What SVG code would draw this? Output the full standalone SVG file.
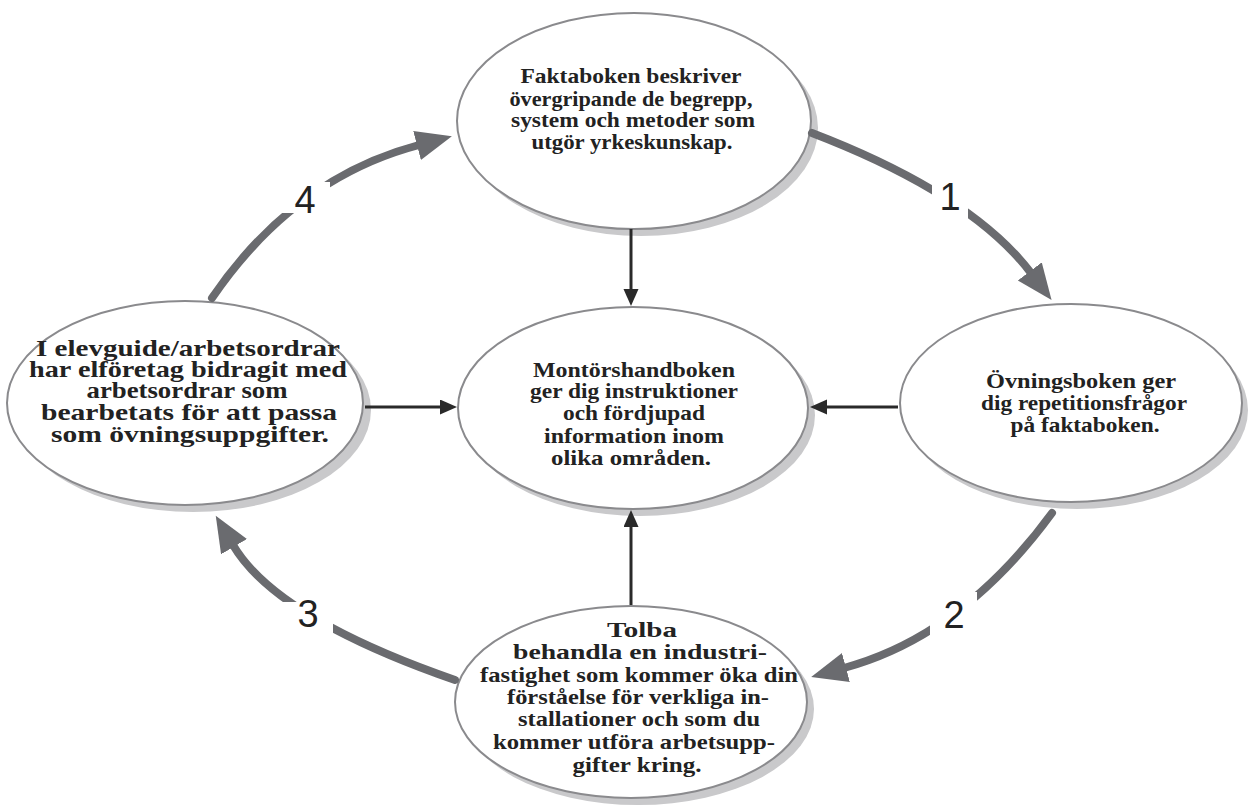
<svg xmlns="http://www.w3.org/2000/svg" width="1249" height="812" viewBox="0 0 1249 812">
<style>
.sh{fill:#c9c9cb;stroke:none}
.el{fill:#fff;stroke:#8a8a8d;stroke-width:2}
.t{font-family:"Liberation Serif",serif;font-weight:bold;font-size:22px;fill:#222;text-anchor:middle}
.cur{fill:none;stroke:#6a6b6f;stroke-width:8;stroke-linecap:round}
.blk{fill:none;stroke:#2a2a2a;stroke-width:3}
.num{font-family:"Liberation Sans",sans-serif;font-size:38px;fill:#222;text-anchor:middle}
.gap{fill:#fff}
</style>
<defs>
<marker id="big" markerUnits="userSpaceOnUse" markerWidth="40" markerHeight="34" refX="2" refY="15" orient="auto">
<path d="M0,0 L36,15 L0,30 Z" fill="#6a6b6f"/>
</marker>
<marker id="sm" markerUnits="userSpaceOnUse" markerWidth="20" markerHeight="16" refX="1" refY="7.5" orient="auto">
<path d="M0,0 L17,7.5 L0,15 Z" fill="#2a2a2a"/>
</marker>
</defs>
<g id="n-fakta">
<ellipse class="sh" cx="641" cy="128" rx="177" ry="108"/>
<ellipse class="el" cx="634" cy="121" rx="177" ry="108"/>
<text class="t"><tspan x="631" y="83" textLength="221" lengthAdjust="spacingAndGlyphs">Faktaboken beskriver</tspan><tspan x="631" y="106" textLength="243" lengthAdjust="spacingAndGlyphs">övergripande de begrepp,</tspan><tspan x="633" y="127" textLength="244" lengthAdjust="spacingAndGlyphs">system och metoder som</tspan><tspan x="632" y="149" textLength="201" lengthAdjust="spacingAndGlyphs">utgör yrkeskunskap.</tspan></text>
</g>
<g id="n-montor">
<ellipse class="sh" cx="640" cy="415" rx="175" ry="101"/>
<ellipse class="el" cx="633" cy="408" rx="175" ry="101"/>
<text class="t"><tspan x="634" y="377" textLength="202" lengthAdjust="spacingAndGlyphs">Montörshandboken</tspan><tspan x="634" y="398" textLength="208" lengthAdjust="spacingAndGlyphs">ger dig instruktioner</tspan><tspan x="634" y="420" textLength="142" lengthAdjust="spacingAndGlyphs">och fördjupad</tspan><tspan x="634" y="443" textLength="180" lengthAdjust="spacingAndGlyphs">information inom</tspan><tspan x="631" y="465" textLength="160" lengthAdjust="spacingAndGlyphs">olika områden.</tspan></text>
</g>
<g id="n-ovning">
<ellipse class="sh" cx="1077" cy="410" rx="171" ry="99"/>
<ellipse class="el" cx="1071" cy="403" rx="171" ry="99"/>
<text class="t"><tspan x="1081" y="388" textLength="190" lengthAdjust="spacingAndGlyphs">Övningsboken ger</tspan><tspan x="1084" y="410" textLength="206" lengthAdjust="spacingAndGlyphs">dig repetitionsfrågor</tspan><tspan x="1085" y="432" textLength="149" lengthAdjust="spacingAndGlyphs">på faktaboken.</tspan></text>
</g>
<g id="n-elevguide">
<ellipse class="sh" cx="193" cy="410" rx="178" ry="102"/>
<ellipse class="el" cx="185" cy="403" rx="178" ry="102"/>
<text class="t" style="font-size:23px"><tspan x="188" y="356" textLength="304" lengthAdjust="spacingAndGlyphs">I elevguide/arbetsordrar</tspan><tspan x="188" y="377" textLength="318" lengthAdjust="spacingAndGlyphs">har elföretag bidragit med</tspan><tspan x="187" y="398" textLength="201" lengthAdjust="spacingAndGlyphs">arbetsordrar som</tspan><tspan x="189" y="420" textLength="296" lengthAdjust="spacingAndGlyphs">bearbetats för att passa</tspan><tspan x="190" y="442" textLength="278" lengthAdjust="spacingAndGlyphs">som övningsuppgifter.</tspan></text>
</g>
<g id="n-tolba">
<ellipse class="sh" cx="638" cy="709" rx="176" ry="96"/>
<ellipse class="el" cx="631" cy="702" rx="176" ry="96"/>
<text class="t"><tspan x="642" y="637" textLength="70" lengthAdjust="spacingAndGlyphs">Tolba</tspan><tspan x="640" y="659" textLength="254" lengthAdjust="spacingAndGlyphs">behandla en industri-</tspan><tspan x="639" y="682" textLength="318" lengthAdjust="spacingAndGlyphs">fastighet som kommer öka din</tspan><tspan x="638" y="704" textLength="262" lengthAdjust="spacingAndGlyphs">förståelse för verkliga in-</tspan><tspan x="639" y="726" textLength="242" lengthAdjust="spacingAndGlyphs">stallationer och som du</tspan><tspan x="634" y="749" textLength="282" lengthAdjust="spacingAndGlyphs">kommer utföra arbetsupp-</tspan><tspan x="637" y="772" textLength="129" lengthAdjust="spacingAndGlyphs">gifter kring.</tspan></text>
</g>
<g id="connectors">
<path class="cur" d="M812,133 Q971,194 1031,273" marker-end="url(#big)"/>
<path class="cur" d="M1052,513 Q962,636 844,668" marker-end="url(#big)"/>
<path class="cur" d="M455,680 Q276,618 233,545" marker-end="url(#big)"/>
<path class="cur" d="M212,298 Q294,178 419,145" marker-end="url(#big)"/>
<rect class="gap" x="932" y="168" width="36" height="55"/>
<rect class="gap" x="930" y="592" width="47" height="50"/>
<rect class="gap" x="270" y="602" width="63" height="40"/>
<rect class="gap" x="262" y="182" width="68" height="31"/>
<text class="num" x="950" y="210">1</text>
<text class="num" x="954" y="628">2</text>
<text class="num" x="308" y="627">3</text>
<text class="num" x="305" y="213">4</text>
<path class="blk" d="M631,229 L631,290" marker-end="url(#sm)"/>
<path class="blk" d="M631,605 L631,526" marker-end="url(#sm)"/>
<path class="blk" d="M365,407 L441,407" marker-end="url(#sm)"/>
<path class="blk" d="M898,407 L826,407" marker-end="url(#sm)"/>
</g>
</svg>
